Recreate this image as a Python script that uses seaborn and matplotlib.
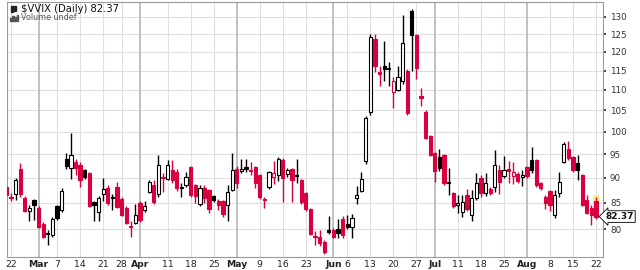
import numpy as np
import pandas as pd
import matplotlib
matplotlib.use("Agg")
import matplotlib.pyplot as plt
import seaborn as sns
from matplotlib.patches import Rectangle
from matplotlib.ticker import NullLocator, FixedLocator
from matplotlib.transforms import blended_transform_factory

# ---------------- data ($VVIX daily, Feb 19 - Aug 22 2016) ----------------
holidays = ["2016-03-25", "2016-05-30", "2016-07-04"]

opens = [88.1, 86.2, 86.7, 91.8, 86.0, 83.5, 85.6, 84.0, 81.0, 79.3,
         78.9, 84.4, 83.6, 94.0, 92.0, 93.4, 92.6, 91.6, 91.0, 85.1,
         83.3, 86.7, 87.9, 85.9, 88.1, 85.7, 84.0, 80.6, 81.2, 85.0,
         83.6, 87.1, 88.5, 86.7, 90.1, 89.7, 91.6, 91.2, 88.1, 88.5,
         92.2, 88.5, 84.8, 87.9, 87.5, 86.3, 85.3, 85.3, 84.6, 87.5,
         91.8, 91.4, 92.2, 91.7, 92.2, 90.5, 85.8, 88.1, 90.1, 90.5,
         93.7, 90.7, 91.8, 90.5, 89.5, 86.9, 83.8, 78.8, 78.6, 77.7,
         79.8, 79.9, 80.0, 82.0, 81.0, 80.5, 85.9, 87.3, 93.5, 104.5,
         123.7, 114.6, 116.1, 115.6, 109.4, 109.9, 112.4, 115.0, 131.9, 124.6,
         108.6, 104.7, 99.0, 95.2, 94.3, 94.8, 88.9, 86.9, 84.6, 83.2,
         86.5, 82.6, 85.9, 89.9, 86.9, 87.7, 88.1, 91.6, 90.3, 91.9,
         90.3, 90.8, 90.1, 92.2, 93.7, 93.7, 88.9, 86.1, 87.3, 82.6,
         86.9, 93.3, 96.2, 94.3, 93.0, 90.5, 85.5, 84.0, 85.3]

highs = [88.4, 87.0, 90.0, 93.2, 86.4, 84.6, 85.8, 84.3, 81.4, 79.8,
         82.3, 84.6, 88.0, 95.2, 99.8, 94.0, 93.4, 91.9, 91.3, 85.3,
         86.3, 90.0, 88.6, 86.8, 89.2, 86.2, 84.4, 81.5, 84.8, 85.4,
         85.3, 89.5, 89.5, 94.8, 91.0, 93.8, 93.7, 91.8, 89.0, 91.1,
         92.4, 88.8, 88.5, 88.5, 87.8, 86.5, 85.8, 85.6, 88.5, 95.3,
         92.4, 93.9, 94.0, 93.3, 92.5, 90.8, 86.1, 91.4, 93.5, 94.4,
         94.2, 92.0, 92.0, 94.0, 89.8, 87.2, 84.0, 79.7, 79.8, 78.0,
         82.4, 80.2, 81.9, 82.4, 82.6, 82.8, 88.3, 91.1, 103.6, 125.0,
         125.1, 116.1, 122.9, 117.2, 113.3, 116.1, 130.6, 115.5, 132.5, 124.9,
         110.5, 105.0, 99.2, 95.5, 96.1, 95.0, 92.0, 87.2, 86.5, 86.5,
         87.7, 87.6, 91.0, 90.5, 91.0, 88.1, 95.8, 92.6, 94.6, 93.6,
         93.4, 91.3, 91.6, 92.5, 96.6, 94.0, 89.2, 86.6, 87.6, 87.5,
         91.1, 97.6, 98.0, 94.6, 94.8, 90.8, 86.6, 84.6, 86.2]

lows = [86.2, 85.3, 85.6, 86.2, 83.2, 81.6, 81.8, 80.2, 78.5, 77.2,
        78.6, 81.7, 83.3, 91.8, 89.8, 90.5, 88.2, 89.8, 84.1, 81.6,
        81.6, 85.4, 84.6, 83.6, 84.0, 82.4, 81.0, 78.7, 80.9, 81.4,
        83.2, 86.9, 84.8, 86.2, 87.1, 89.5, 88.9, 87.3, 86.1, 88.1,
        86.2, 85.0, 84.3, 85.0, 83.0, 85.2, 83.7, 82.2, 81.6, 87.3,
        88.0, 91.0, 91.2, 90.5, 88.0, 85.8, 84.0, 87.8, 88.7, 89.4,
        85.2, 90.2, 85.2, 89.0, 84.7, 83.5, 79.0, 77.2, 77.0, 75.6,
        79.2, 78.4, 78.5, 78.4, 80.0, 78.5, 84.8, 87.1, 92.8, 104.0,
        114.6, 110.9, 112.4, 111.1, 105.5, 109.7, 111.6, 104.0, 115.0, 112.7,
        106.1, 98.3, 94.5, 89.1, 91.4, 88.5, 86.5, 84.0, 83.0, 82.3,
        83.5, 81.6, 85.6, 86.1, 86.3, 86.5, 87.1, 86.7, 90.0, 89.0,
        88.7, 88.9, 88.3, 90.0, 91.0, 88.2, 87.6, 83.8, 83.5, 82.1,
        86.1, 93.0, 93.8, 91.2, 89.5, 84.3, 82.8, 80.8, 82.0]

closes = [86.5, 85.9, 89.5, 86.7, 83.4, 84.0, 84.6, 80.4, 78.7, 79.1,
          81.9, 82.1, 87.3, 92.4, 94.8, 92.0, 89.5, 90.1, 84.4, 84.5,
          86.0, 87.7, 84.9, 86.1, 84.2, 82.6, 81.2, 80.4, 82.6, 81.7,
          84.4, 89.1, 85.1, 92.6, 89.9, 92.6, 89.5, 87.9, 88.0, 90.1,
          86.5, 86.3, 87.9, 86.0, 83.9, 85.5, 84.6, 82.8, 87.1, 91.6,
          88.9, 91.8, 91.9, 91.5, 88.9, 86.1, 85.6, 91.1, 91.0, 94.0,
          89.9, 91.6, 89.5, 90.4, 85.1, 83.8, 79.2, 78.6, 77.6, 75.9,
          79.6, 78.6, 79.3, 79.0, 80.4, 82.1, 86.5, 89.7, 103.2, 124.3,
          116.3, 114.1, 115.3, 115.5, 112.4, 113.2, 122.6, 104.3, 124.6, 115.6,
          107.9, 98.5, 94.8, 91.4, 92.0, 88.9, 89.1, 84.4, 84.9, 85.2,
          83.8, 85.9, 88.9, 86.9, 88.9, 86.9, 92.6, 89.1, 91.6, 91.5,
          91.1, 89.3, 90.5, 90.4, 91.6, 88.5, 87.9, 84.9, 84.6, 86.5,
          89.1, 97.2, 94.1, 91.6, 91.7, 84.6, 83.0, 82.6, 82.37]

tick_dates = ["2016-02-22", "2016-03-01", "2016-03-07", "2016-03-14", "2016-03-21",
              "2016-03-28", "2016-04-01", "2016-04-11", "2016-04-18", "2016-04-25",
              "2016-05-02", "2016-05-09", "2016-05-16", "2016-05-23", "2016-06-01",
              "2016-06-06", "2016-06-13", "2016-06-20", "2016-06-27", "2016-07-01",
              "2016-07-11", "2016-07-18", "2016-07-25", "2016-08-01", "2016-08-08",
              "2016-08-15", "2016-08-22"]
tick_labels = ["22", "Mar", "7", "14", "21", "28", "Apr", "11", "18", "25",
               "May", "9", "16", "23", "Jun", "6", "13", "20", "27", "Jul",
               "11", "18", "25", "Aug", "8", "15", "22"]
month_labels = ["Mar", "Apr", "May", "Jun", "Jul", "Aug"]

y_ticks = [80, 85, 90, 95, 100, 105, 110, 115, 120, 125, 130]

title_text = "$VVIX (Daily) 82.37"
volume_text = "Volume undef"
last_price = closes[-1]

# ---------------- frame ----------------
dates = pd.bdate_range("2016-02-19", "2016-08-22")
dates = dates[~dates.isin(pd.to_datetime(holidays))]
df = pd.DataFrame({"date": dates, "open": opens, "high": highs,
                   "low": lows, "close": closes})
df["x"] = np.arange(len(df))

RED = "#d8003f"
BLACK = "#000000"

prev = df["close"].shift(1).fillna(df["open"])
df["col"] = np.where(df["close"] < prev, RED, BLACK)
df["hollow"] = df["close"] > df["open"]
df["lo"] = df[["open", "close"]].min(axis=1)
df["hi"] = df[["open", "close"]].max(axis=1)
df["face"] = np.where(df["hollow"], "white", df["col"])

sns.set_theme(style="white")
plt.rcParams["font.family"] = ["DejaVu Sans"]

fig = plt.figure(figsize=(6.4, 2.7), dpi=100)
fig.patch.set_facecolor("white")
L, R, B, T = 7 / 640, 603 / 640, 13 / 270, 268 / 270
ax = fig.add_axes([L, B, R - L, T - B])
ax.set_facecolor("white")
ax.set_yscale("log")
ax.set_ylim(75.1, 134.5)
ax.set_xlim(0.13, 129.5)

# grid
for y in y_ticks:
    ax.axhline(y, color="#dedede", lw=0.8, zorder=0)
pos_map = {d: i for i, d in enumerate(df["date"])}
tick_pos = [pos_map[pd.Timestamp(d)] for d in tick_dates]
for p, lab in zip(tick_pos, tick_labels):
    if lab in month_labels:
        ax.axvline(p, color="#c0c0c0", lw=1.4, zorder=0)
    else:
        ax.axvline(p, color="#dedede", lw=0.8, zorder=0)

# last-bar highlight
last_x = df["x"].iloc[-1]
ax.add_patch(Rectangle((last_x - 0.65, 82.1), 1.3, 86.5 - 82.1,
                       facecolor="#fbef7a", edgecolor="none", zorder=1))

# candles
ax.vlines(df["x"], df["low"], df["high"], colors=df["col"], lw=1.0, zorder=2)
ax.bar(df["x"], df["hi"] - df["lo"], bottom=df["lo"], width=0.7,
       color=df["face"], edgecolor=df["col"], linewidth=0.8, zorder=3)

# axes styling
for s in ax.spines.values():
    s.set_color("#9a9a9a")
    s.set_linewidth(0.8)
ax.yaxis.tick_right()
ax.yaxis.set_minor_locator(NullLocator())
ax.yaxis.set_major_locator(FixedLocator(y_ticks))
ax.set_yticklabels([str(v) for v in y_ticks])
ax.tick_params(axis="y", labelsize=6.3, colors="#333333", length=2, pad=3,
               right=True, left=False)
ax.set_xticks(tick_pos)
ax.set_xticklabels(tick_labels)
ax.tick_params(axis="x", labelsize=6.7, colors="#222222", length=0, pad=2)
for t in ax.get_xticklabels():
    if t.get_text() in month_labels:
        t.set_fontweight("bold")
ax.set_xlabel("")
ax.set_ylabel("")

# last price tag
trans = blended_transform_factory(ax.transAxes, ax.transData)
ax.text(1.004, last_price, f"{last_price:.2f}", transform=trans, ha="left",
        va="center", fontsize=6.5, fontweight="bold", color="#111111",
        bbox=dict(boxstyle="larrow,pad=0.15", fc="white", ec="#222222", lw=0.7),
        clip_on=False, zorder=5)

# header texts
fig.text(21 / 640, 1 - 9 / 270, title_text, fontsize=7.2, color="#111111",
         ha="left", va="center")
fig.text(21 / 640, 1 - 18 / 270, volume_text, fontsize=5.8, color="#555555",
         ha="left", va="center")
# small icons
fig.patches.append(Rectangle((11 / 640, 1 - 12 / 270), 2 / 640, 6 / 270,
                             transform=fig.transFigure, color="#222222"))
fig.patches.append(Rectangle((14 / 640, 1 - 11 / 270), 2 / 640, 5 / 270,
                             transform=fig.transFigure, color="#222222"))
for k, h in enumerate([3, 5, 4, 6]):
    fig.patches.append(Rectangle(((10 + 2.2 * k) / 640, 1 - 21 / 270), 1.5 / 640, h / 270,
                                 transform=fig.transFigure, color="#555555"))

fig.savefig("out.png", dpi=100, facecolor="white")
